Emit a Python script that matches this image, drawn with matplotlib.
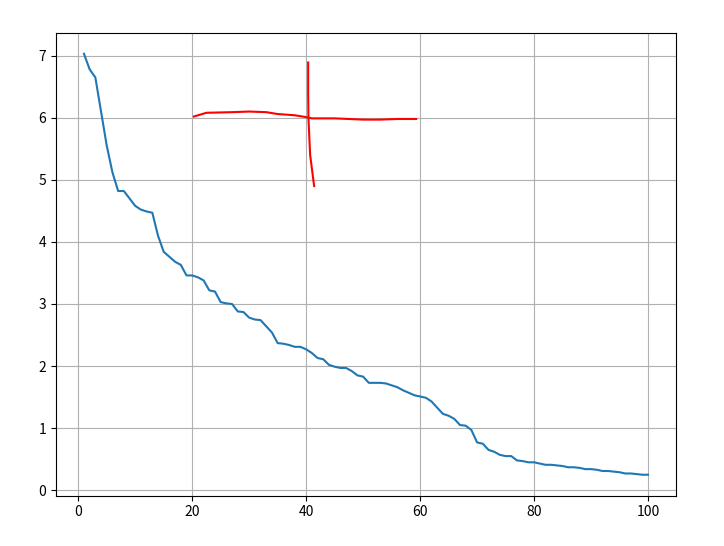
import numpy as np
import matplotlib
matplotlib.use("Agg")
import matplotlib.pyplot as plt

plt.rcParams['font.family'] = ['Noto Sans CJK KR', 'DejaVu Sans']

# blue curve, one value per step 1..100
steps = np.arange(1, 101)
values = [7.03, 6.78, 6.65, 6.10, 5.55, 5.12, 4.82, 4.82, 4.70, 4.58,
          4.52, 4.49, 4.47, 4.10, 3.84, 3.76, 3.68, 3.63, 3.46, 3.46,
          3.43, 3.38, 3.22, 3.20, 3.03, 3.01, 3.00, 2.88, 2.87, 2.78,
          2.75, 2.74, 2.64, 2.54, 2.37, 2.36, 2.34, 2.31, 2.31, 2.27,
          2.21, 2.13, 2.11, 2.02, 1.99, 1.97, 1.97, 1.92, 1.85, 1.83,
          1.73, 1.73, 1.73, 1.72, 1.69, 1.66, 1.61, 1.57, 1.53, 1.51,
          1.49, 1.43, 1.33, 1.23, 1.20, 1.15, 1.05, 1.04, 0.97, 0.77,
          0.75, 0.65, 0.62, 0.57, 0.55, 0.55, 0.48, 0.47, 0.45, 0.45,
          0.43, 0.41, 0.41, 0.40, 0.39, 0.37, 0.37, 0.36, 0.34, 0.34,
          0.33, 0.31, 0.31, 0.30, 0.29, 0.27, 0.27, 0.26, 0.25, 0.25]

# red strokes
hx = [20.3, 22.5, 27, 30, 33, 35, 38, 40, 41, 45, 50, 53, 56, 59.3]
hy = [6.02, 6.08, 6.09, 6.10, 6.09, 6.06, 6.04, 6.01, 5.99, 5.99, 5.97, 5.97, 5.98, 5.98]
vx = [40.35, 40.35, 40.4, 40.7, 41.4]
vy = [6.89, 6.40, 6.00, 5.40, 4.90]

fig = plt.figure(figsize=(7.24, 5.46), dpi=100)
ax = fig.add_axes([0.077, 0.092, 0.857, 0.848])
ax.plot(steps, values, color='#1f77b4')
ax.plot(hx, hy, color='red')
ax.plot(vx, vy, color='red')
ax.grid(True)

plt.savefig("out.png")
